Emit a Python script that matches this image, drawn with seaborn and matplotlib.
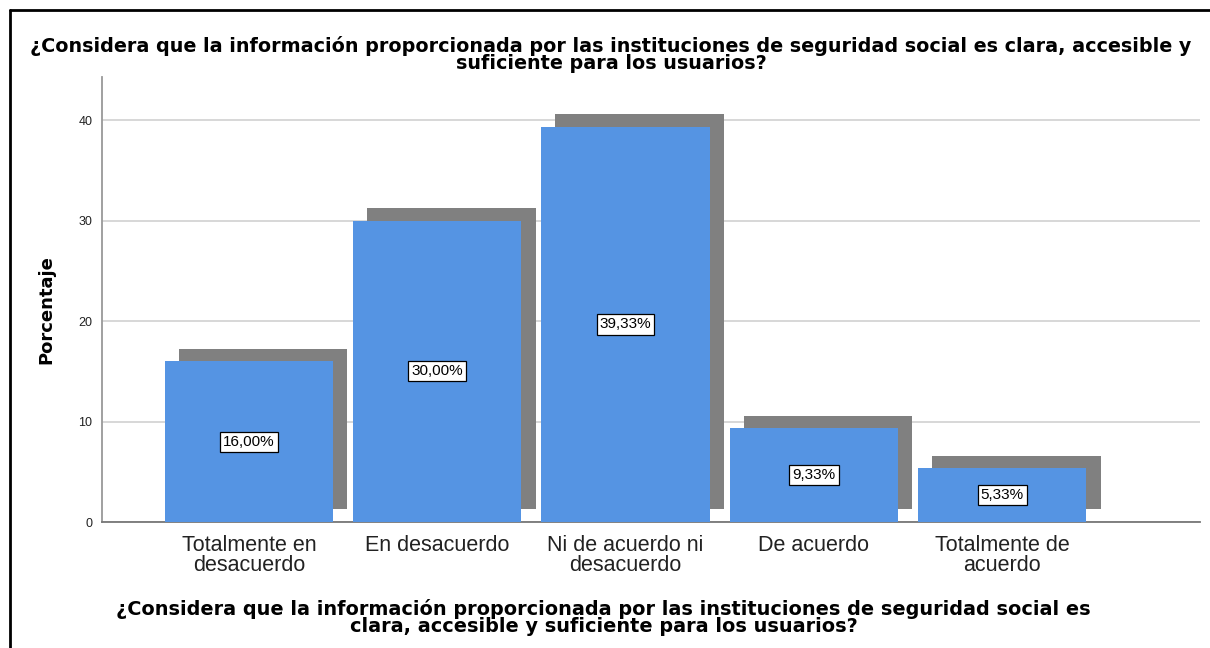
import numpy as np
import matplotlib
matplotlib.use("Agg")
import matplotlib.pyplot as plt
import seaborn as sns
from matplotlib.lines import Line2D

# datos
categorias = ["Totalmente en\ndesacuerdo", "En desacuerdo", "Ni de acuerdo ni\ndesacuerdo",
              "De acuerdo", "Totalmente de\nacuerdo"]
porcentajes = [16.00, 30.00, 39.33, 9.33, 5.33]
etiquetas = ["16,00%", "30,00%", "39,33%", "9,33%", "5,33%"]
yticks = [0, 10, 20, 30, 40]

pregunta = ("¿Considera que la información proporcionada por las instituciones de seguridad social es clara, accesible y\n"
            "suficiente para los usuarios?")
pregunta_x = ("¿Considera que la información proporcionada por las instituciones de seguridad social es\n"
              "clara, accesible y suficiente para los usuarios?")

sns.set_style("white")
plt.rcParams["font.family"] = ["Liberation Sans", "DejaVu Sans"]
negrita = ["DejaVu Sans"]  # mas ancha, parecida al texto estirado del original

azul = "#5594e3"
gris = "#808080"
ancho = 0.894
dx, dy = 0.075, 1.25   # desplazamiento de la sombra

fig = plt.figure(figsize=(12.1, 6.48), dpi=100)
ax = fig.add_axes([0.0843, 0.1944, 0.9074, 0.6868])

pos = np.arange(len(categorias))
# sombra gris
ax.bar(pos + dx, porcentajes, bottom=dy, width=ancho, color=gris, zorder=2, linewidth=0)
sns.barplot(x=categorias, y=porcentajes, order=categorias, color=azul, saturation=1,
            width=ancho, ax=ax, zorder=3, linewidth=0, errorbar=None)

for i, (v, t) in enumerate(zip(porcentajes, etiquetas)):
    ax.text(i, v / 2, t, ha="center", va="center", fontsize=11, zorder=5, color="black",
            bbox=dict(boxstyle="square,pad=0.2", fc="white", ec="black", lw=0.9))

ax.set_xlim(-0.78, 5.05)
ax.set_ylim(0, 44.3)
ax.set_yticks(yticks)
ax.yaxis.grid(True, color="#d4d4d4", lw=1.3)
ax.set_axisbelow(True)
ax.tick_params(axis="y", length=0, labelsize=9, pad=7, labelcolor="#222222")
ax.tick_params(axis="x", length=0, labelsize=15.5, pad=9, labelcolor="#222222")
for lab in ax.get_xticklabels():
    lab.set_linespacing(0.95)
ax.set_xlabel("")
ax.set_ylabel("")
for s in ["top", "right"]:
    ax.spines[s].set_visible(False)
ax.spines["left"].set_color("#999999")
ax.spines["left"].set_linewidth(1.3)
ax.spines["bottom"].set_color("#777777")
ax.spines["bottom"].set_linewidth(1.3)

fig.text(0.505, 0.9165, pregunta, ha="center", va="center", fontsize=13.8,
         fontweight="bold", linespacing=0.87, family=negrita, color="black")
fig.text(0.499, 0.0476, pregunta_x, ha="center", va="center", fontsize=13.9,
         fontweight="bold", linespacing=0.87, family=negrita, color="black")
fig.text(0.038, 0.5216, "Porcentaje", ha="center", va="center", rotation=90,
         fontsize=13, fontweight="bold", family=negrita, color="black")

# marco exterior
fig.add_artist(Line2D([0.0079, 1.0], [0.9838, 0.9838], color="black", lw=2,
                      transform=fig.transFigure))
fig.add_artist(Line2D([0.0079, 0.0079], [0.0, 0.9838], color="black", lw=2,
                      transform=fig.transFigure))

fig.savefig("out.png", dpi=100)
